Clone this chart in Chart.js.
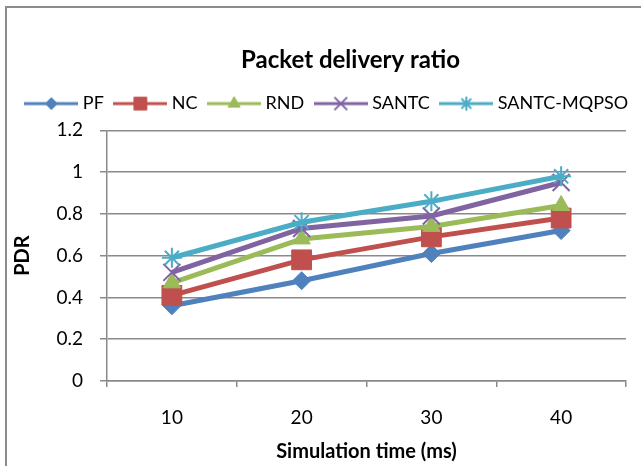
<!DOCTYPE html>
<html>
<head>
<meta charset="utf-8">
<title>Packet delivery ratio</title>
<script src="https://cdn.jsdelivr.net/npm/chart.js@4.4.0/dist/chart.umd.min.js"></script>
<style>
  html, body { margin: 0; padding: 0; background: #fff; }
  #frame {
    position: absolute; left: 5px; top: 6px; width: 700px; height: 520px;
    border-left: 2px solid #8c8c8c; border-top: 2px solid #8c8c8c;
  }
  #wrap { position: absolute; left: 0; top: 0; width: 641px; height: 466px; }
</style>
</head>
<body>
<div id="frame"></div>
<div id="wrap"><canvas id="pdrChart" width="641" height="466"></canvas></div>
<script>
// Datos
const categories = ["10", "20", "30", "40"];
const seriesNames = ["PF", "NC", "RND", "SANTC", "SANTC-MQPSO"];
const pfValues = [0.36, 0.48, 0.61, 0.72];
const ncValues = [0.41, 0.58, 0.69, 0.78];
const rndValues = [0.47, 0.68, 0.74, 0.84];
const santcValues = [0.52, 0.73, 0.79, 0.95];
const mqpsoValues = [0.59, 0.76, 0.86, 0.98];
const allValues = [pfValues, ncValues, rndValues, santcValues, mqpsoValues];
const yTicks = [0, 0.2, 0.4, 0.6, 0.8, 1, 1.2];

// Estilos
const colors = ["#4F81BD", "#C0504D", "#9BBB59", "#8064A2", "#4BACC6"];
const markers = ["rectRot", "rect", "triangle", "crossRot", "star"];
const markerRadius = [9, 14, 10, 12, 10];
const legendRadius = [6, 9, 7, 9, 7];
const markerBorder = [1, 1, 1, 2, 2];
const gridColor = "#8a8a8a";

Chart.defaults.font.family = "Lato";
Chart.defaults.color = "#000";

// Imagen de leyenda: linea + marcador
function legendImage(i) {
  const c = document.createElement("canvas");
  c.width = 54;
  c.height = 22;
  const ctx = c.getContext("2d");
  ctx.strokeStyle = colors[i];
  ctx.lineWidth = 3;
  ctx.beginPath();
  ctx.moveTo(0, 11);
  ctx.lineTo(54, 11);
  ctx.stroke();
  ctx.fillStyle = colors[i];
  ctx.lineWidth = markerBorder[i];
  Chart.helpers.drawPoint(ctx, {
    pointStyle: markers[i],
    radius: legendRadius[i],
    rotation: 0,
    borderWidth: markerBorder[i],
  }, 27, 11);
  return c;
}

// Ajuste fino de titulo y leyenda como en el original
const shiftBoxes = {
  id: "shiftBoxes",
  afterLayout(chart) {
    chart.titleBlock.left -= 32;
    chart.legend.left += 8;
    chart.legend.right += 8;
  },
};

const datasets = seriesNames.map((name, i) => ({
  label: name,
  data: allValues[i],
  borderColor: colors[i],
  backgroundColor: colors[i],
  borderWidth: 5,
  pointStyle: markers[i],
  pointRadius: markerRadius[i],
  pointHoverRadius: markerRadius[i],
  pointBorderWidth: markerBorder[i],
  pointBackgroundColor: colors[i],
  pointBorderColor: colors[i],
  order: seriesNames.length - i,
  tension: 0,
}));

new Chart(document.getElementById("pdrChart"), {
  type: "line",
  data: { labels: categories, datasets: datasets },
  plugins: [shiftBoxes],
  options: {
    responsive: false,
    animation: false,
    layout: { padding: 0 },
    plugins: {
      tooltip: { enabled: false },
      title: {
        display: true,
        fullSize: false,
        text: "Packet delivery ratio",
        font: { size: 24, weight: "bold" },
        padding: { top: 45.6, bottom: 6.2 },
      },
      // espaciador entre leyenda y grafico
      subtitle: {
        display: true,
        text: "",
        weight: 500,
        font: { size: 1, lineHeight: 1 },
        padding: { top: 0, bottom: 6.7 },
      },
      legend: {
        position: "top",
        labels: {
          usePointStyle: true,
          pointStyleWidth: 45,
          padding: 14,
          font: { size: 18 },
          generateLabels: (chart) =>
            chart.data.datasets.map((ds, i) => ({
              text: ds.label,
              pointStyle: legendImage(i),
              datasetIndex: i,
              hidden: false,
              fillStyle: colors[i],
              strokeStyle: colors[i],
              lineWidth: 0,
            })),
        },
      },
    },
    scales: {
      x: {
        offset: true,
        grid: {
          offset: true,
          drawOnChartArea: false,
          drawTicks: true,
          tickLength: 6,
          color: gridColor,
          lineWidth: 1.5,
        },
        border: { display: true, color: gridColor, width: 1.5 },
        ticks: { padding: 19, font: { size: 19 }, maxRotation: 0 },
        title: {
          display: true,
          text: "Simulation time (ms)",
          font: { size: 20, weight: "bold" },
          padding: { top: 0, bottom: 2 },
        },
        afterFit: (scale) => { scale.height = 85; },
      },
      y: {
        min: 0,
        max: 1.2,
        afterBuildTicks: (scale) => {
          scale.ticks = yTicks.map((v) => ({ value: v }));
        },
        ticks: { padding: 17, font: { size: 19 }, callback: (v) => String(v) },
        grid: { color: gridColor, lineWidth: 1.5, tickLength: 7 },
        border: { display: true, color: gridColor, width: 1.5 },
        title: {
          display: true,
          text: "PDR",
          font: { size: 20, weight: "bold" },
          padding: { top: 11, bottom: 0 },
        },
        afterFit: (scale) => { scale.width = 107; },
      },
      // eje vacio a la derecha para dejar margen
      yRight: {
        position: "right",
        display: true,
        grid: { display: false },
        ticks: { display: false },
        border: { display: false },
        afterFit: (scale) => { scale.width = 13; },
      },
    },
  },
});
</script>
</body>
</html>
